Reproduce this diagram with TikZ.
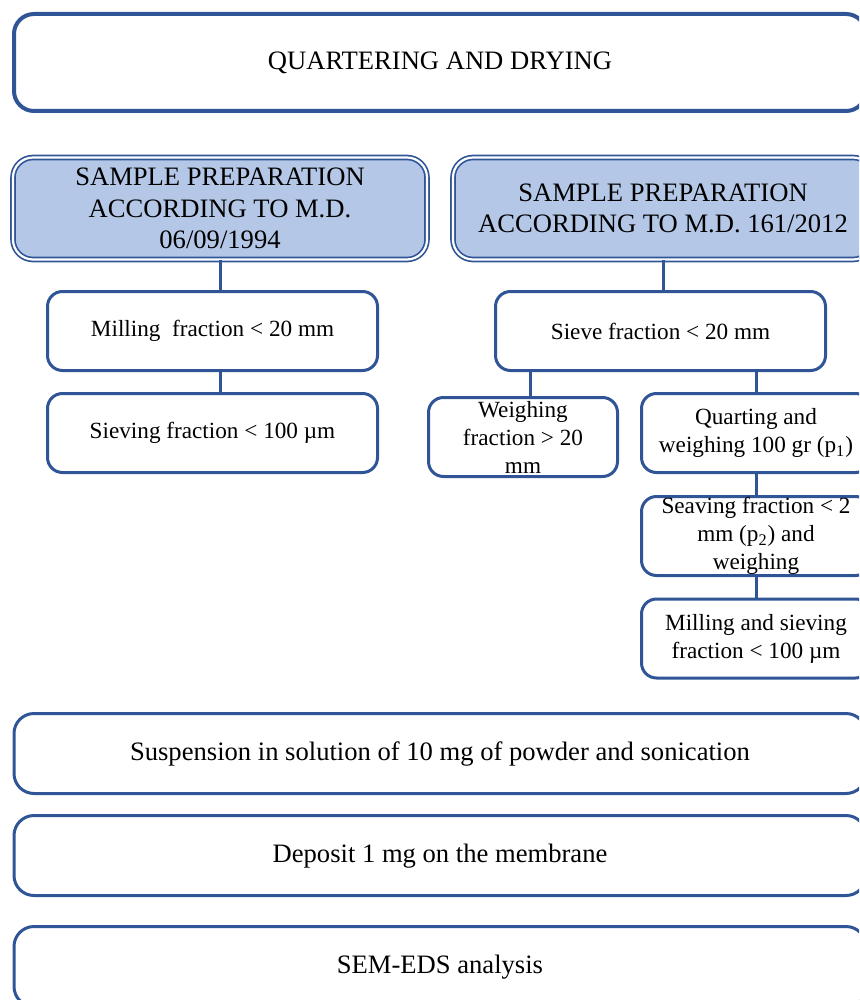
\documentclass[tikz,border=0pt]{standalone}
\usepackage{fontspec}
\setmainfont{Liberation Serif}
\definecolor{cobalt}{RGB}{47, 85, 151}
\definecolor{paleblue}{RGB}{180, 199, 231}

\begin{document}
\begin{tikzpicture}[x=0.5pt, y=-0.5pt,
    phase/.style={draw=cobalt, line width=1.5pt, rounded corners=10pt, fill=white,
                  text height=0.9em, text depth=0.24em,
                  minimum width=426pt, minimum height=40pt, font=\fontsize{13.3}{15.8}\selectfont},
    header/.style={draw=cobalt, double=white, line width=0.85pt, double distance=1.1pt,
                   fill=paleblue, rounded corners=10pt, align=center, font=\fontsize{13.3}{15.8}\selectfont},
    stage/.style={draw=cobalt, line width=1.5pt, rounded corners=7.5pt, fill=white,
                  align=center, inner sep=0pt, minimum height=39.5pt, font=\fontsize{11.6}{14}\selectfont},
    link/.style={draw=cobalt, line width=1.5pt}]
            \clip (0, 0) rectangle (859, 1000);
            \node[phase, line width=2pt, minimum height=48.5pt] (dry) at (440, 62.5) {QUARTERING AND DRYING};
            \node[header, minimum width=207pt, minimum height=51pt] (oldmd) at (220, 208.5)
                 {SAMPLE PREPARATION\\ACCORDING TO M.D.\\06/09/1994};
            \node[header, minimum width=210pt, minimum height=51pt] (newmd) at (663, 208.5)
                 {SAMPLE PREPARATION\\ACCORDING TO M.D. 161/2012};
            \node[stage, minimum width=165pt]   (millA)  at (212.5, 331)   {Milling\enspace fraction < 20 mm};
            \node[stage, minimum width=165pt]   (sievA)  at (212.5, 433)   {Sieving fraction < 100 µm};
            \node[stage, minimum width=165pt]   (sieve)  at (660.5, 331)   {Sieve fraction < 20 mm};
            \node[stage, minimum width=94.5pt]  (weigh)  at (523,   437)   {Weighing\\fraction > 20\\mm};
            \node[stage, minimum width=114.5pt] (quart)  at (756,   433)   {Quarting and\\weighing 100 gr (p\textsubscript{1})};
            \node[stage, minimum width=114.5pt] (seave)  at (756,   536)   {Seaving fraction < 2\\mm (p\textsubscript{2}) and\\weighing};
            \node[stage, minimum width=114.5pt] (millB)  at (756,   638.5) {Milling and sieving\\fraction < 100 µm};
            \node[phase]                        (susp)   at (440,  753.5)  {Suspension in solution of 10 mg of powder and sonication};
            \node[phase]                        (depo)   at (440,  855.5)  {Deposit 1 mg on the membrane};
            \node[phase]                        (sem)    at (440,  966.5)  {SEM-EDS analysis};
            \draw[link] (oldmd.south) -- (oldmd.south |- millA.north);
            \draw[link] (oldmd.south |- millA.south) -- (oldmd.south |- sievA.north);
            \draw[link] (newmd.south) -- (newmd.south |- sieve.north);
            \draw[link] ([xshift=3.5pt]weigh.north) -- ([xshift=3.5pt]weigh.north |- sieve.south);
            \draw[link] (quart.north) -- (quart.north |- sieve.south);
            \draw[link] (quart.south) -- (seave.north);
            \draw[link] (seave.south) -- (millB.north);
        \end{tikzpicture}
\end{document}
